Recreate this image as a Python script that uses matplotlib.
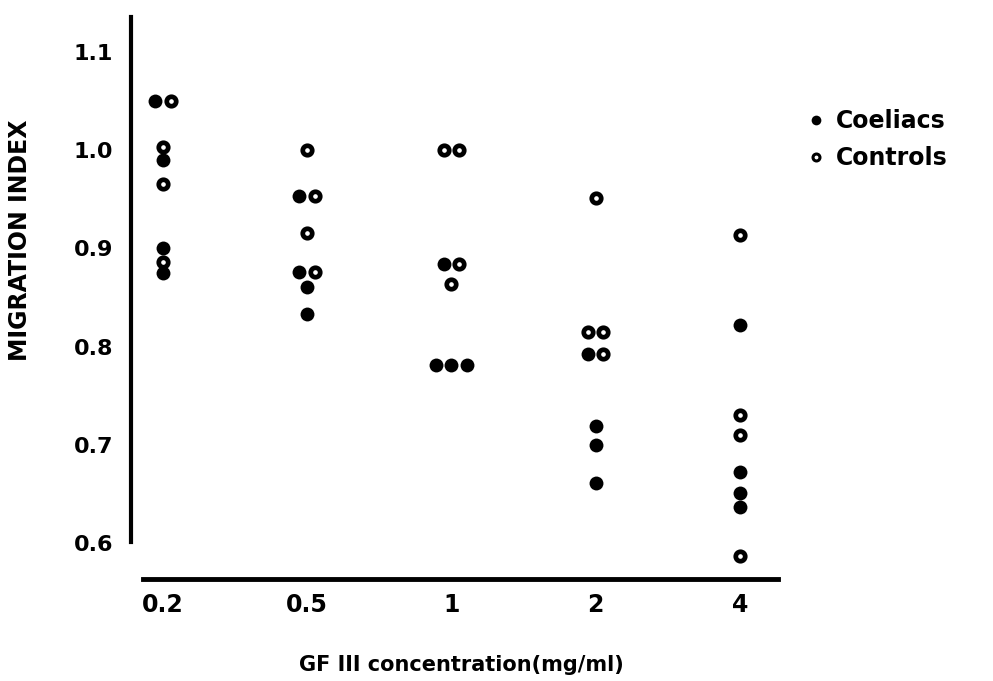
import matplotlib
matplotlib.use("Agg")
import matplotlib.pyplot as plt
from matplotlib.lines import Line2D

concentrations = ["0.2", "0.5", "1", "2", "4"]

# migration index per concentration group
coeliacs = [
    [1.05, 0.99, 0.90, 0.875],
    [0.953, 0.876, 0.861, 0.833],
    [0.884, 0.781, 0.781, 0.781],
    [0.792, 0.719, 0.700, 0.661],
    [0.822, 0.672, 0.651, 0.637],
]
controls = [
    [1.05, 1.003, 0.966, 0.886],
    [1.0, 0.953, 0.916, 0.876],
    [1.0, 1.0, 0.884, 0.864],
    [0.951, 0.815, 0.815, 0.792],
    [0.914, 0.730, 0.710, 0.587],
]

yticks = [0.6, 0.7, 0.8, 0.9, 1.0, 1.1]


def dodge(values, step, tol=0.004):
    # spread points with (nearly) equal values side by side
    offsets = [0.0] * len(values)
    used = [False] * len(values)
    for i in range(len(values)):
        if used[i]:
            continue
        cluster = [j for j in range(i, len(values))
                   if not used[j] and abs(values[j] - values[i]) < tol]
        for k, j in enumerate(cluster):
            offsets[j] = (k - (len(cluster) - 1) / 2) * step
            used[j] = True
    return offsets


plt.rcParams['font.family'] = ['DejaVu Sans']
plt.rcParams['font.weight'] = 'bold'

W, H = 993, 681
fig = plt.figure(figsize=(W / 100, H / 100), dpi=100)
fig.patch.set_facecolor('white')
ax = fig.add_axes([131 / W, 1 - 579 / H, (778 - 131) / W, (579 - 17) / H])

for g in range(len(concentrations)):
    vals = coeliacs[g] + controls[g]
    kinds = ["c"] * len(coeliacs[g]) + ["k"] * len(controls[g])
    offs = dodge(vals, 0.108)
    for v, k, o in zip(vals, kinds, offs):
        if k == "c":
            ax.plot(g + o, v, 'o', color='black', ms=10, mew=0, zorder=3)
        else:
            ax.plot(g + o, v, 'o', mfc='white', mec='black', ms=6.8, mew=3.4, zorder=4)

ax.set_xlim(-0.222, 4.264)
ax.set_ylim(0.5632, 1.1358)

ax.spines['top'].set_visible(False)
ax.spines['right'].set_visible(False)
ax.spines['left'].set_linewidth(3)
ax.spines['left'].set_bounds(0.601, 1.136)
ax.spines['bottom'].set_linewidth(3.5)
ax.spines['bottom'].set_bounds(-0.139, 4.264)

ax.set_xticks(range(len(concentrations)))
ax.set_xticklabels(concentrations, fontsize=17, fontweight='bold')
ax.set_yticks(yticks)
ax.set_yticklabels(["%.1f" % t for t in yticks], fontsize=16, fontweight='bold')
ax.tick_params(axis='y', length=0, pad=13)
ax.tick_params(axis='x', length=0, pad=10)

fig.text(20 / W, 1 - 240 / H, "MIGRATION INDEX", rotation=90, ha='center', va='center',
         fontsize=17, fontweight='bold')
fig.text(461 / W, 1 - 665 / H, "GF III concentration(mg/ml)", ha='center', va='center',
         fontsize=15, fontweight='bold')

handles = [
    Line2D([], [], ls='none', marker='o', color='black', ms=7, mew=0),
    Line2D([], [], ls='none', marker='o', mfc='white', mec='black', ms=5, mew=2.2),
]
fig.legend(handles, ["Coeliacs", "Controls"], loc='upper left',
           bbox_to_anchor=(795 / W, 1 - 97 / H), frameon=False,
           prop={'size': 17, 'weight': 'bold'}, handlelength=0.8,
           handletextpad=0.45, labelspacing=0.55, borderpad=0)

fig.savefig("out.png", dpi=100, facecolor='white')
